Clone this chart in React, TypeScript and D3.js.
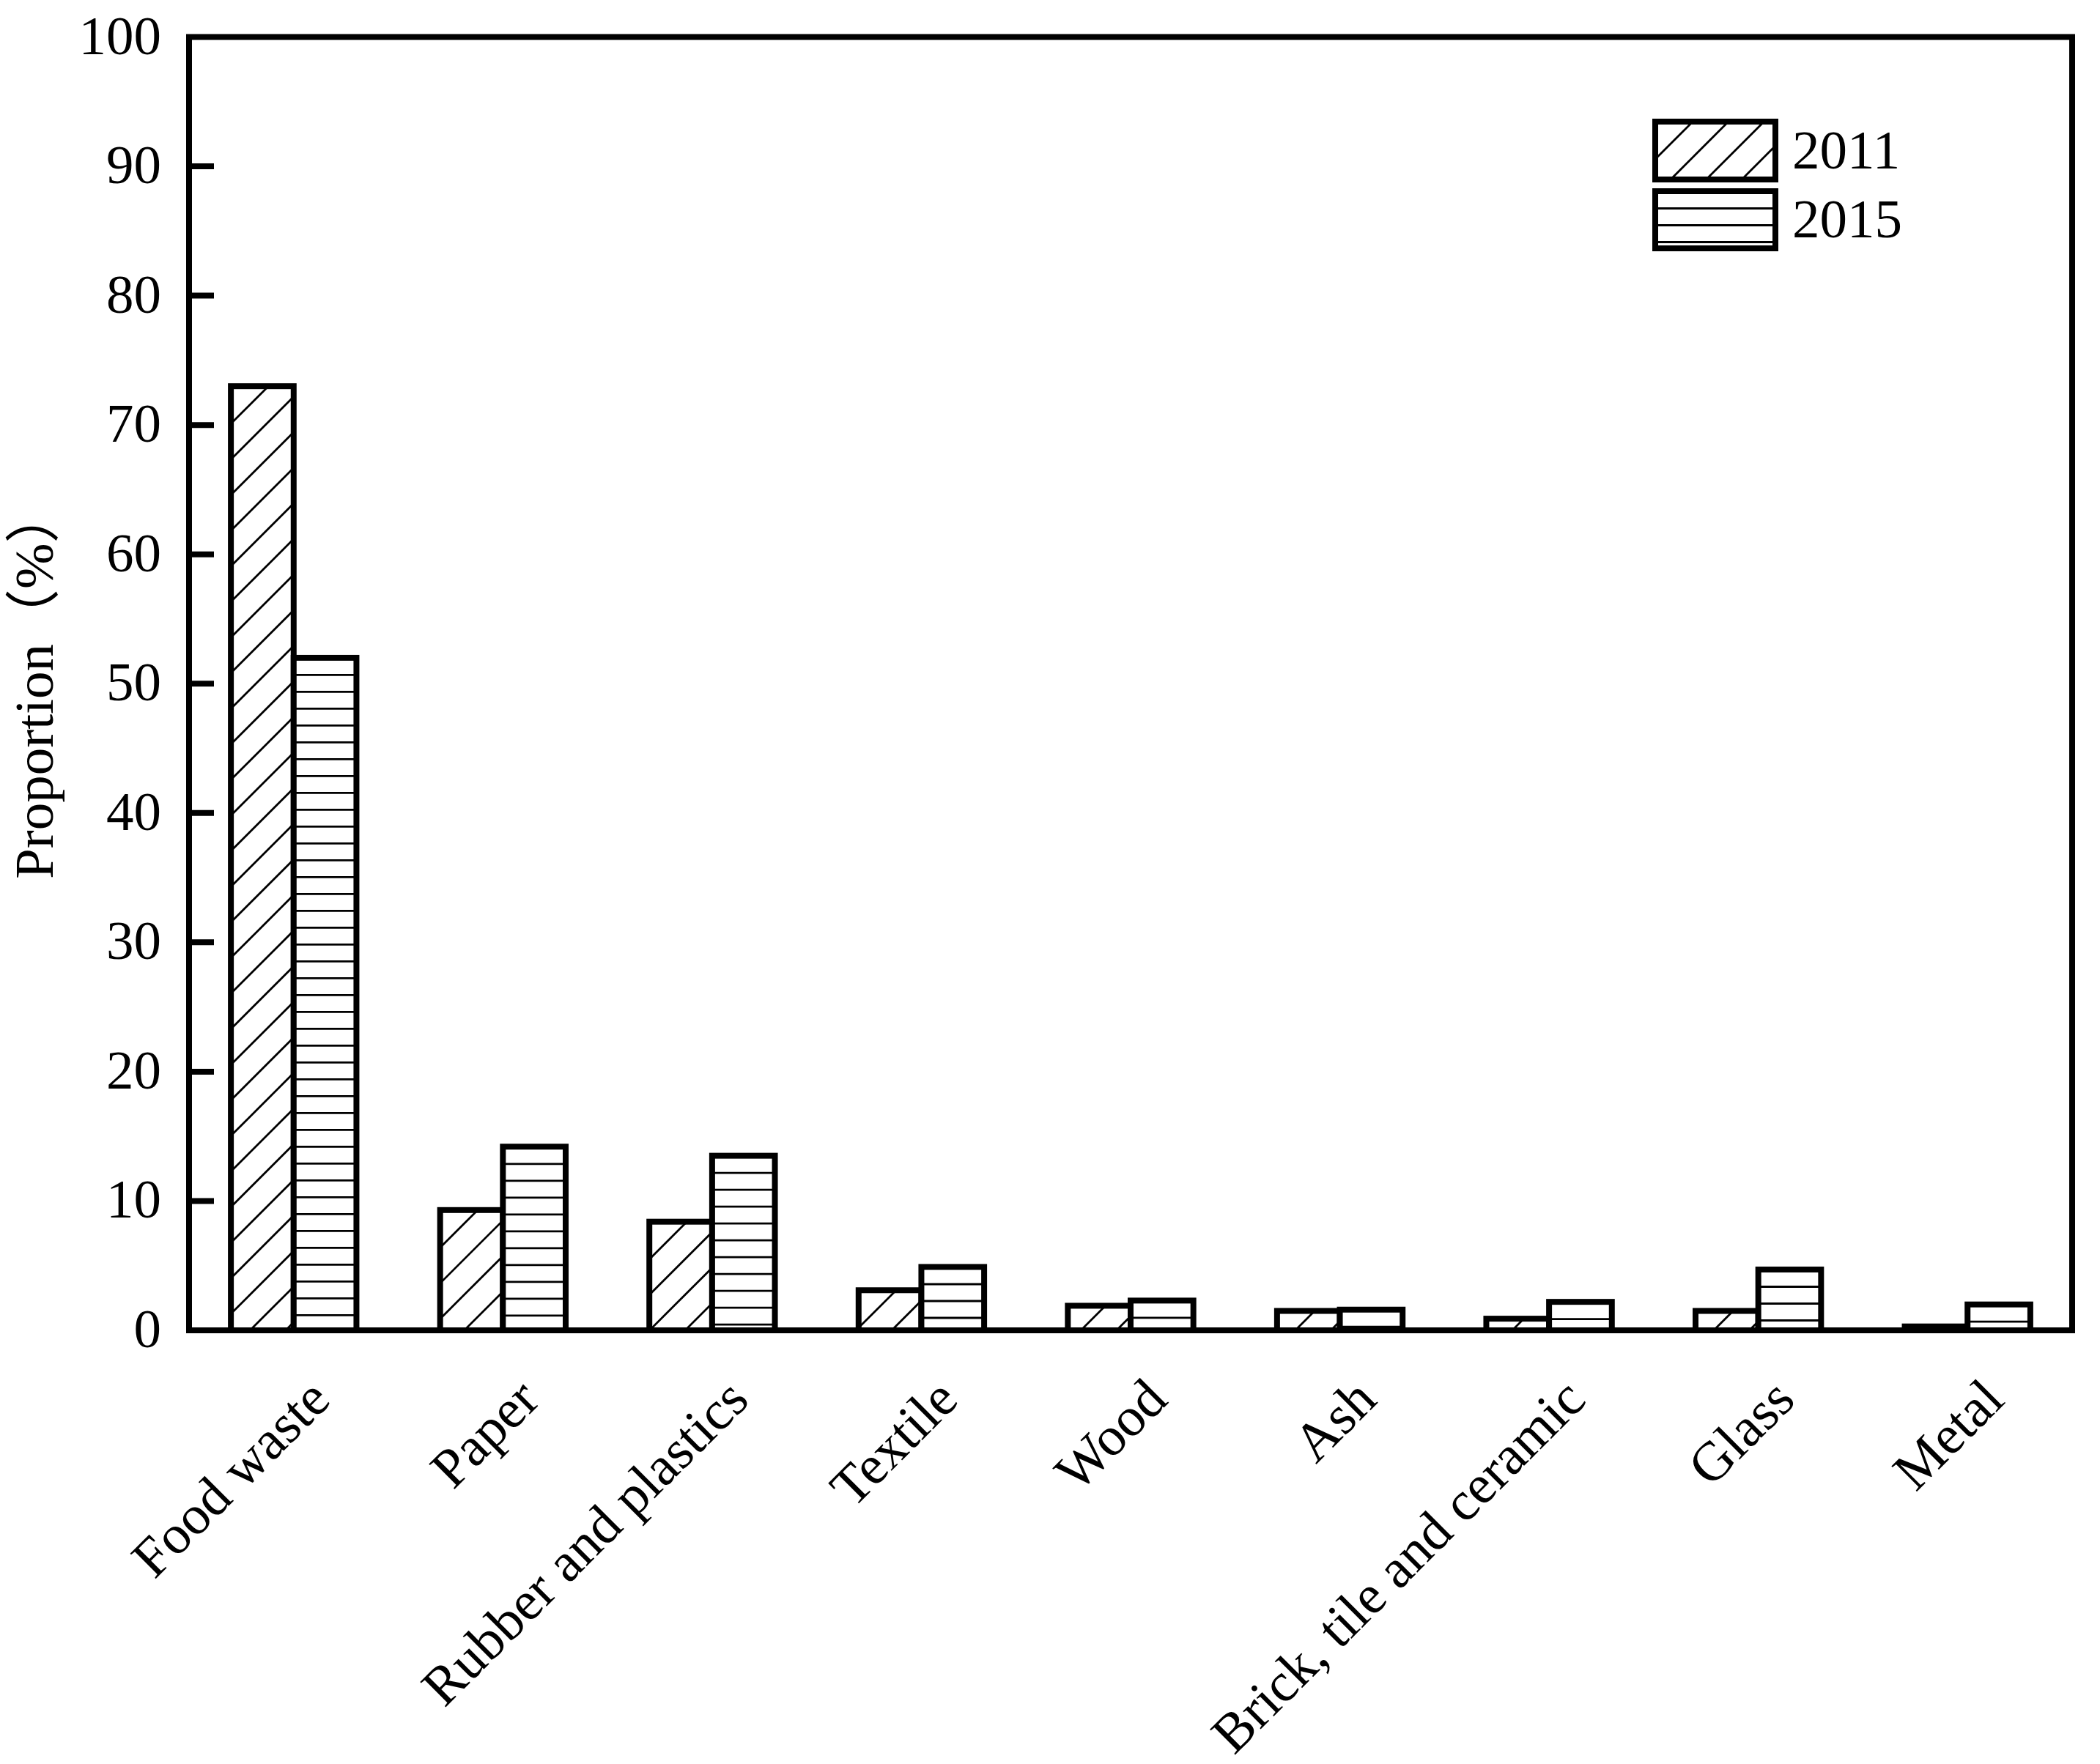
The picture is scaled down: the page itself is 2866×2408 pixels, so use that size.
import React from "react";
import * as d3 from "d3";

const categories = [
  "Food waste",
  "Paper",
  "Rubber and plastics",
  "Textile",
  "Wood",
  "Ash",
  "Brick, tile and ceramic",
  "Glass",
  "Metal",
];
const seriesNames = ["2011", "2015"];
const values2011 = [73.0, 9.3, 8.4, 3.1, 1.9, 1.5, 0.9, 1.5, 0.3];
const values2015 = [52.0, 14.2, 13.5, 4.9, 2.3, 1.6, 2.2, 4.7, 2.0];
const yTicks = [0, 10, 20, 30, 40, 50, 60, 70, 80, 90, 100];
const yTitle = "Proportion（%）";

const W = 2866;
const H = 2408;
const M = { left: 258, right: 2828, top: 50.5, bottom: 1816 };
const FONT = "'Liberation Serif', 'Times New Roman', 'Noto Sans CJK SC', serif";
const FS = 75;
const STROKE = 8;
const HATCH_W = 2.8;
const DIAG_SP = 48.6;
const DIAG_OFF = 51.3;
const HORZ_SP = 23;
const HORZ_OFF = 23.5;

function Hatch({ id, x, y, w, h, kind }: { id: string; x: number; y: number; w: number; h: number; kind: string }) {
  const lines: JSX.Element[] = [];
  if (kind === "diag") {
    let c = DIAG_OFF % DIAG_SP;
    let k = 0;
    while (c < w + h + DIAG_SP) {
      lines.push(
        <line
          key={k}
          x1={x - 20}
          y1={y + c + 20}
          x2={x + c + 20}
          y2={y - 20}
          stroke="#000"
          strokeWidth={HATCH_W}
        />
      );
      c += DIAG_SP;
      k++;
    }
  } else {
    let yy = y + HORZ_OFF;
    let k = 0;
    while (yy < y + h) {
      lines.push(
        <line key={k} x1={x - 5} x2={x + w + 5} y1={yy} y2={yy} stroke="#000" strokeWidth={HATCH_W} />
      );
      yy += HORZ_SP;
      k++;
    }
  }
  return (
    <g>
      <defs>
        <clipPath id={id}>
          <rect x={x} y={y} width={w} height={h} />
        </clipPath>
      </defs>
      <rect x={x} y={y} width={w} height={h} fill="#fff" />
      <g clipPath={`url(#${id})`}>{lines}</g>
      <rect x={x} y={y} width={w} height={h} fill="none" stroke="#000" strokeWidth={STROKE} />
    </g>
  );
}

export default function App() {
  const x = d3.scaleBand<string>().domain(categories).range([M.left, M.right]).paddingInner(0).paddingOuter(0);
  const xs = d3
    .scaleBand<string>()
    .domain(seriesNames)
    .range([0, x.bandwidth()])
    .paddingInner(0)
    .paddingOuter(2 / 3);
  const y = d3.scaleLinear().domain([0, 100]).range([M.bottom, M.top]);
  const series = [
    { name: seriesNames[0], values: values2011, kind: "diag" },
    { name: seriesNames[1], values: values2015, kind: "horz" },
  ];

  const plotCY = (M.top + M.bottom) / 2;

  return (
    <svg
      width={W}
      height={H}
      viewBox={`0 0 ${W} ${H}`}
      style={{ position: "absolute", left: 0, top: 0, display: "block", background: "#fff" }}
      fontFamily={FONT}
    >
      <rect x={0} y={0} width={W} height={H} fill="#fff" />
      {categories.map((cat, i) => (
        <g key={cat}>
          {series.map((s) => {
            const bx = (x(cat) as number) + (xs(s.name) as number);
            const by = y(s.values[i]);
            const bh = y(0) - by;
            return (
              <Hatch
                key={s.name}
                id={`clip-${i}-${s.name}`}
                x={bx}
                y={by}
                w={xs.bandwidth()}
                h={bh}
                kind={s.kind}
              />
            );
          })}
        </g>
      ))}
      <rect
        x={M.left}
        y={M.top}
        width={M.right - M.left}
        height={M.bottom - M.top}
        fill="none"
        stroke="#000"
        strokeWidth={STROKE}
        strokeLinejoin="miter"
      />
      {yTicks.map((t) => (
        <g key={t}>
          {t > 0 && t < 100 && (
            <line x1={M.left} x2={M.left + 34} y1={y(t)} y2={y(t)} stroke="#000" strokeWidth={STROKE} />
          )}
          <text x={220} y={y(t) + 23} textAnchor="end" fontSize={FS} fill="#000">
            {t}
          </text>
        </g>
      ))}
      <text
        transform={`translate(72, ${plotCY}) rotate(-90)`}
        textAnchor="middle"
        fontSize={FS}
        fill="#000"
      >
        {yTitle}
      </text>
      {categories.map((cat) => {
        const cx = (x(cat) as number) + x.bandwidth() / 2 + 53;
        const cy = 1914;
        return (
          <text
            key={cat}
            transform={`translate(${cx}, ${cy}) rotate(-45)`}
            textAnchor="end"
            fontSize={FS}
            fill="#000"
          >
            {cat}
          </text>
        );
      })}
      {series.map((s, i) => {
        const ly = i === 0 ? 166 : 261;
        const lh = i === 0 ? 79 : 78;
        return (
          <g key={s.name}>
            <Hatch id={`leg-${s.name}`} x={2259} y={ly} w={164} h={lh} kind={s.kind} />
            <text x={2446} y={i === 0 ? 230 : 324} fontSize={FS} fill="#000">
              {s.name}
            </text>
          </g>
        );
      })}
    </svg>
  );
}
